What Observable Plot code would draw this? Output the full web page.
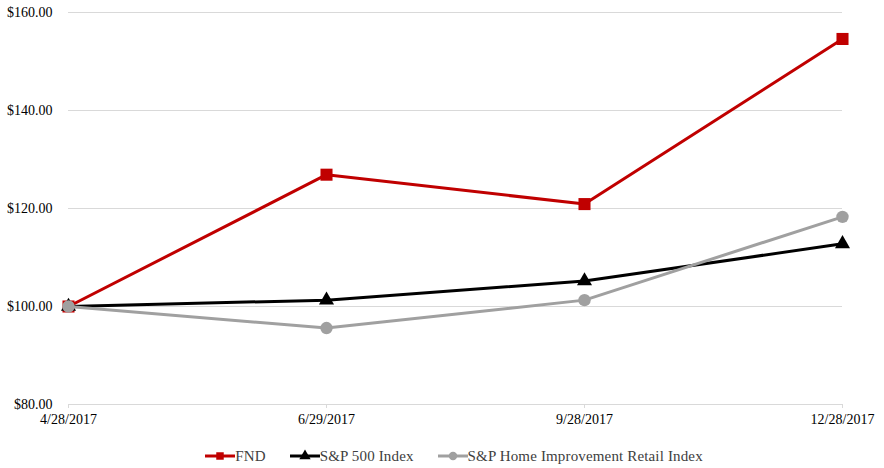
<!DOCTYPE html>
<html>
<head>
<meta charset="utf-8">
<script src="https://cdn.jsdelivr.net/npm/d3@7"></script>
<script src="https://cdn.jsdelivr.net/npm/@observablehq/plot@0.6"></script>
<style>
  html, body { margin: 0; padding: 0; background: #fff; }
  body { width: 884px; height: 468px; overflow: hidden; }
  #legend { display: flex; justify-content: center; align-items: center; height: 38px; padding-left: 24px; padding-top: 14px; box-sizing: border-box; font-family: "Liberation Serif", "Times New Roman", serif; font-size: 15px; color: #404040; }
  .item { display: flex; align-items: center; margin: 0 12px; font-family: "Liberation Serif", "Times New Roman", serif; }
  .item span { font-family: "Liberation Serif", "Times New Roman", serif; letter-spacing: 0.15px; }
</style>
</head>
<body>
<div id="chart"></div>
<div id="legend"></div>
<script>
const dates = ["4/28/2017", "6/29/2017", "9/28/2017", "12/28/2017"];
const fnd = [100.0, 126.9, 120.9, 154.6];
const sp500 = [100.0, 101.3, 105.2, 112.8];
const homeImp = [100.0, 95.6, 101.3, 118.3];
const seriesNames = ["FND", "S&P 500 Index", "S&P Home Improvement Retail Index"];
const seriesColors = ["#C00000", "#000000", "#A0A0A0"];
const seriesSymbols = ["square", "triangle", "circle"];
const seriesR = [6.8, 5.6, 6.2];
const yTicks = [80, 100, 120, 140, 160];

const values = [fnd, sp500, homeImp];
const rows = [];
values.forEach((vals, s) => vals.forEach((v, i) => rows.push({series: seriesNames[s], date: dates[i], value: v})));

const marks = [
  Plot.gridY(yTicks, {stroke: "#d9d9d9", strokeOpacity: 1, strokeWidth: 1})
];
seriesNames.forEach((name, s) => {
  const data = rows.filter(d => d.series === name);
  marks.push(Plot.line(data, {x: "date", y: "value", stroke: seriesColors[s], strokeWidth: 3}));
  marks.push(Plot.dot(data, {x: "date", y: "value", fill: seriesColors[s], stroke: "none", symbol: seriesSymbols[s], r: seriesR[s]}));
});
marks.push(Plot.axisY(yTicks, {tickSize: 0, tickPadding: 16, tickFormat: d => "$" + d.toFixed(2), fontSize: 14, fill: "#000", label: null}));
marks.push(Plot.axisX(dates, {tickSize: 4, tickPadding: 6, fontSize: 14, fill: "#000", stroke: "#d9d9d9", strokeOpacity: 1, label: null}));

const chart = Plot.plot({
  width: 884,
  height: 430,
  marginLeft: 68,
  marginRight: 42,
  marginTop: 12,
  marginBottom: 26,
  style: {fontFamily: "'Liberation Serif', 'Times New Roman', serif", background: "#fff", overflow: "visible"},
  x: {type: "point", domain: dates, padding: 0, label: null},
  y: {domain: [80, 160], label: null},
  marks
});
document.getElementById("chart").appendChild(chart);

const legend = document.getElementById("legend");
seriesNames.forEach((name, s) => {
  const item = document.createElement("div");
  item.className = "item";
  const sw = d3.create("svg").attr("width", 30).attr("height", 14);
  sw.append("line").attr("x1", 0).attr("x2", 30).attr("y1", 7).attr("y2", 7).attr("stroke", seriesColors[s]).attr("stroke-width", 3);
  const sym = {square: d3.symbolSquare, triangle: d3.symbolTriangle, circle: d3.symbolCircle}[seriesSymbols[s]];
  sw.append("path").attr("transform", "translate(15,7)").attr("d", d3.symbol(sym, 56)()).attr("fill", seriesColors[s]);
  item.appendChild(sw.node());
  const t = document.createElement("span");
  t.textContent = name;
  item.appendChild(t);
  legend.appendChild(item);
});
</script>
</body>
</html>
